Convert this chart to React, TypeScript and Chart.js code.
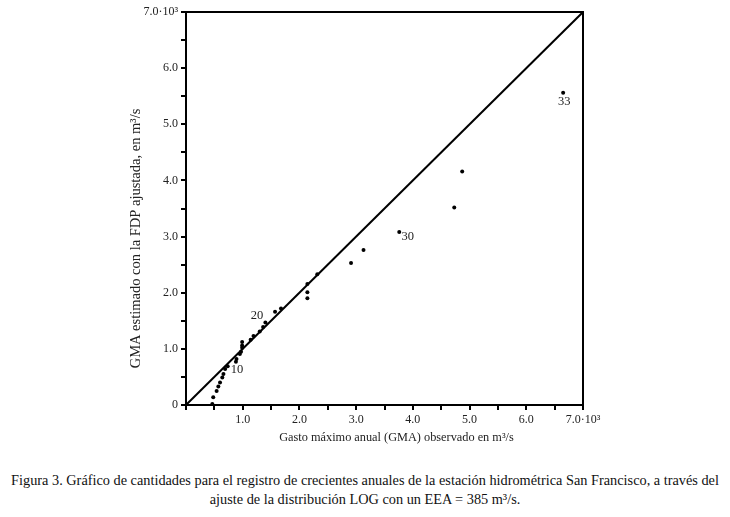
import React, { useEffect, useRef } from "react";
import { Chart, registerables } from "chart.js";

Chart.register(...registerables);

// Observed annual maximum flow (x, thousands m3/s) and fitted estimate (y)
const observed = [0.464, 0.48, 0.54, 0.57, 0.6, 0.64, 0.66, 0.69, 0.735, 0.88, 0.89, 0.95, 0.97, 0.99, 0.99, 0.99, 1.14, 1.19, 1.3, 1.36, 1.4, 1.57, 1.675, 2.14, 2.14, 2.14, 2.315, 2.91, 3.13, 3.76, 4.73, 4.87, 6.65];
const estimated = [0.02, 0.14, 0.25, 0.33, 0.4, 0.49, 0.55, 0.64, 0.69, 0.77, 0.82, 0.91, 0.95, 1.02, 1.06, 1.12, 1.16, 1.23, 1.31, 1.39, 1.47, 1.66, 1.72, 1.9, 2.01, 2.155, 2.33, 2.53, 2.76, 3.08, 3.52, 4.16, 5.56];

// 1:1 reference line
const diagonal = [0, 7];

// Rank labels
const rankLabels = ["10", "20", "30", "33"];
const rankLabelX = [0.9, 1.25, 3.91, 6.67];
const rankLabelY = [0.62, 1.59, 3.0, 5.4];

const axisMin = 0;
const axisMax = 7;
const tickStep = 0.5;
const topTickLabel = "7.0·10³";

const xTitle = "Gasto máximo anual (GMA) observado en m³/s";
const yTitle = "GMA estimado con la FDP ajustada, en m³/s";
const captionLine1 = "Figura 3. Gráfico de cantidades para el registro de crecientes anuales de la estación hidrométrica San Francisco, a través del";
const captionLine2 = "ajuste de la distribución LOG con un EEA = 385 m³/s.";

const FONT = "'Liberation Serif', 'DejaVu Serif', serif";

function tickLabel(v: number, showZero: boolean): string {
  if (Math.abs(v) < 1e-9) return showZero ? "0" : "";
  if (Math.abs(v - Math.round(v)) > 1e-9) return "";
  if (Math.abs(v - axisMax) < 1e-9) return topTickLabel;
  return v.toFixed(1);
}

export default function App() {
  const ref = useRef<HTMLCanvasElement | null>(null);

  useEffect(() => {
    if (!ref.current) return;
    const points = observed.map((x, i) => ({ x, y: estimated[i] }));
    const line = diagonal.map((v) => ({ x: v, y: v }));

    const overlay = {
      id: "overlay",
      afterDraw(chart: any) {
        const { ctx, chartArea, scales } = chart;
        ctx.save();
        ctx.strokeStyle = "#000";
        ctx.lineWidth = 2;
        ctx.strokeRect(chartArea.left, chartArea.top, chartArea.right - chartArea.left, chartArea.bottom - chartArea.top);
        ctx.fillStyle = "#222";
        ctx.font = `12.5px ${FONT}`;
        ctx.textAlign = "center";
        ctx.textBaseline = "middle";
        rankLabels.forEach((t, i) => {
          ctx.fillText(t, scales.x.getPixelForValue(rankLabelX[i]), scales.y.getPixelForValue(rankLabelY[i]));
        });
        // axis titles
        ctx.font = `12.3px ${FONT}`;
        ctx.fillText(xTitle, (chartArea.left + chartArea.right) / 2 + 12, chartArea.bottom + 33);
        ctx.translate(chartArea.left - 50, (chartArea.top + chartArea.bottom) / 2 + 30);
        ctx.rotate(-Math.PI / 2);
        ctx.font = `14.5px ${FONT}`;
        ctx.fillText(yTitle, 0, 0);
        ctx.restore();
      },
    };

    const axisCommon = (showZero: boolean) => ({
      type: "linear" as const,
      min: axisMin,
      max: axisMax,
      ticks: {
        stepSize: tickStep,
        autoSkip: false,
        maxRotation: 0,
        padding: 3,
        color: "#222",
        font: { family: FONT, size: 12 },
        callback: (v: any) => tickLabel(Number(v), showZero),
      },
      grid: {
        drawOnChartArea: false,
        drawTicks: true,
        tickLength: 5,
        color: "#000",
        lineWidth: 2,
      },
      border: { display: true, color: "#000", width: 2 },
      title: { display: false },
    });

    const xAxis: any = axisCommon(false);
    xAxis.afterFit = (s: any) => {
      s.height = 55;
    };
    const yAxis: any = axisCommon(true);
    yAxis.afterFit = (s: any) => {
      s.width = 186;
    };

    const chart = new Chart(ref.current, {
      type: "scatter",
      data: {
        datasets: [
          {
            data: line,
            showLine: true,
            borderColor: "#000",
            borderWidth: 2,
            pointRadius: 0,
            fill: false,
          },
          {
            data: points,
            pointRadius: 2,
            pointBackgroundColor: "#000",
            pointBorderWidth: 0,
            showLine: false,
          },
        ],
      },
      options: {
        responsive: false,
        animation: false,
        layout: { padding: { left: 0, right: 147, top: 12, bottom: 0 } },
        plugins: { legend: { display: false }, tooltip: { enabled: false } },
        scales: { x: xAxis, y: yAxis },
      },
      plugins: [overlay],
    });
    return () => chart.destroy();
  }, []);

  return (
    <div style={{ position: "absolute", left: 0, top: 0, width: 730, height: 517, background: "#fff" }}>
      <canvas ref={ref} width={730} height={460} style={{ display: "block", width: 730, height: 460 }} />
      <div
        style={{
          position: "absolute",
          top: 471,
          left: 0,
          width: 730,
          textAlign: "center",
          fontFamily: FONT,
          fontSize: 14.3,
          lineHeight: "19px",
          color: "#111",
          whiteSpace: "nowrap",
        }}
      >
        <div>{captionLine1}</div>
        <div>{captionLine2}</div>
      </div>
    </div>
  );
}
